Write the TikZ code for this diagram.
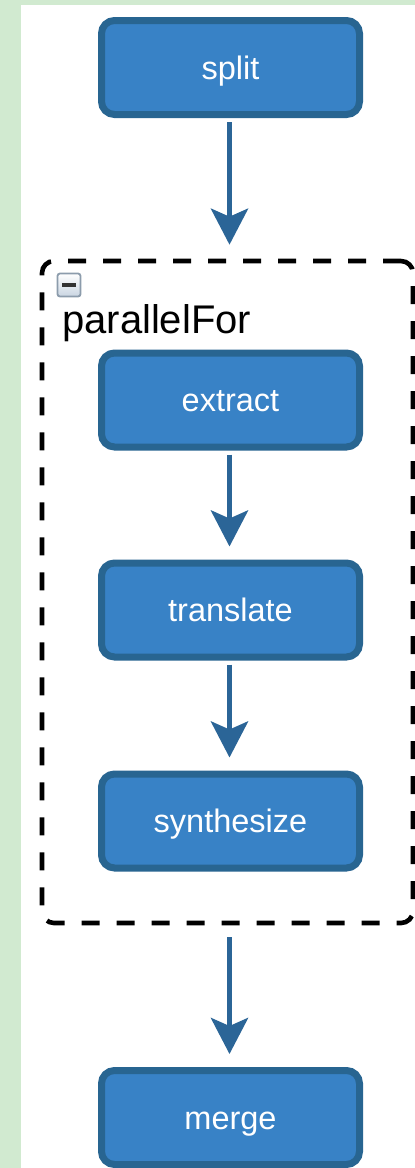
\documentclass[tikz,border=0pt]{standalone}
\usepackage{fontspec}
\setmainfont{Liberation Sans}
\usetikzlibrary{arrows.meta}
\definecolor{pagegreen}{HTML}{D1EAD0}
\definecolor{taskfill}{HTML}{3882C6}
\definecolor{taskedge}{HTML}{286591}
\definecolor{flowblue}{HTML}{2B6597}
\definecolor{iconedge}{HTML}{8C9CAC}
\definecolor{iconfill}{HTML}{C9D5E2}
\tikzset{
  task/.style={draw=taskedge, fill=taskfill, line width=7pt, rounded corners=13pt,
    minimum width=258pt, minimum height=94pt, text=white,
    text height=23pt, text depth=0pt,
    font=\fontsize{32.5}{38}\selectfont},
  flow/.style={draw=flowblue, line width=5.5pt,
    -{Stealth[length=36pt 0 0, width=37pt 0 0, inset=8pt 0 0]}},
  groupbox/.style={draw=black, line width=4.6pt, dash pattern=on 18pt off 17pt,
    rounded corners=12pt, minimum width=371pt, minimum height=662pt}
}
\begin{document}
\begin{tikzpicture}[x=1pt, y=-1pt]
  \useasboundingbox (0,0) rectangle (415,1168);
  % page background
  \fill[pagegreen] (0,0) rectangle (415,1168);
  \fill[white] (21,5) rectangle (415,1168);

  % parallel group with its collapse toggle and title
  \node[groupbox] (group) at (227.5,592) {};
  \node[draw=iconedge, line width=1.8pt, rounded corners=2.5pt,
        top color=white, bottom color=iconfill,
        minimum width=23pt, minimum height=23pt, inner sep=0pt] (toggle) at (69,285) {};
  \draw[line width=3.2pt, black!80] ([xshift=-7pt]toggle.center) -- ([xshift=7pt]toggle.center);
  \node[anchor=base west, inner sep=0pt, font=\fontsize{40}{48}\selectfont] (grouplabel)
    at (62,333) {parallelFor};

  % tasks
  \node[task] (split) at (230.5,67.5) {split};
  \node[task] (extract) at (230.5,400) {extract};
  \node[task] (translate) at (230.5,610) {translate};
  \node[task] (synth) at (230.5,821) {synthesize};
  \node[task] (merge) at (230.5,1117.5) {merge};

  % flow
  \draw[flow, shorten <=4pt, shorten >=14pt] ([xshift=-1pt]split.south) -- ([xshift=-1pt]split.south |- group.north);
  \draw[flow, shorten <=4pt, shorten >=13pt] ([xshift=-1pt]extract.south) -- ([xshift=-1pt]translate.north);
  \draw[flow, shorten <=4pt, shorten >=13pt] ([xshift=-1pt]translate.south) -- ([xshift=-1pt]synth.north);
  \draw[flow, shorten <=12pt, shorten >=13pt] ([xshift=-1pt]merge.north |- group.south) -- ([xshift=-1pt]merge.north);
\end{tikzpicture}
\end{document}
